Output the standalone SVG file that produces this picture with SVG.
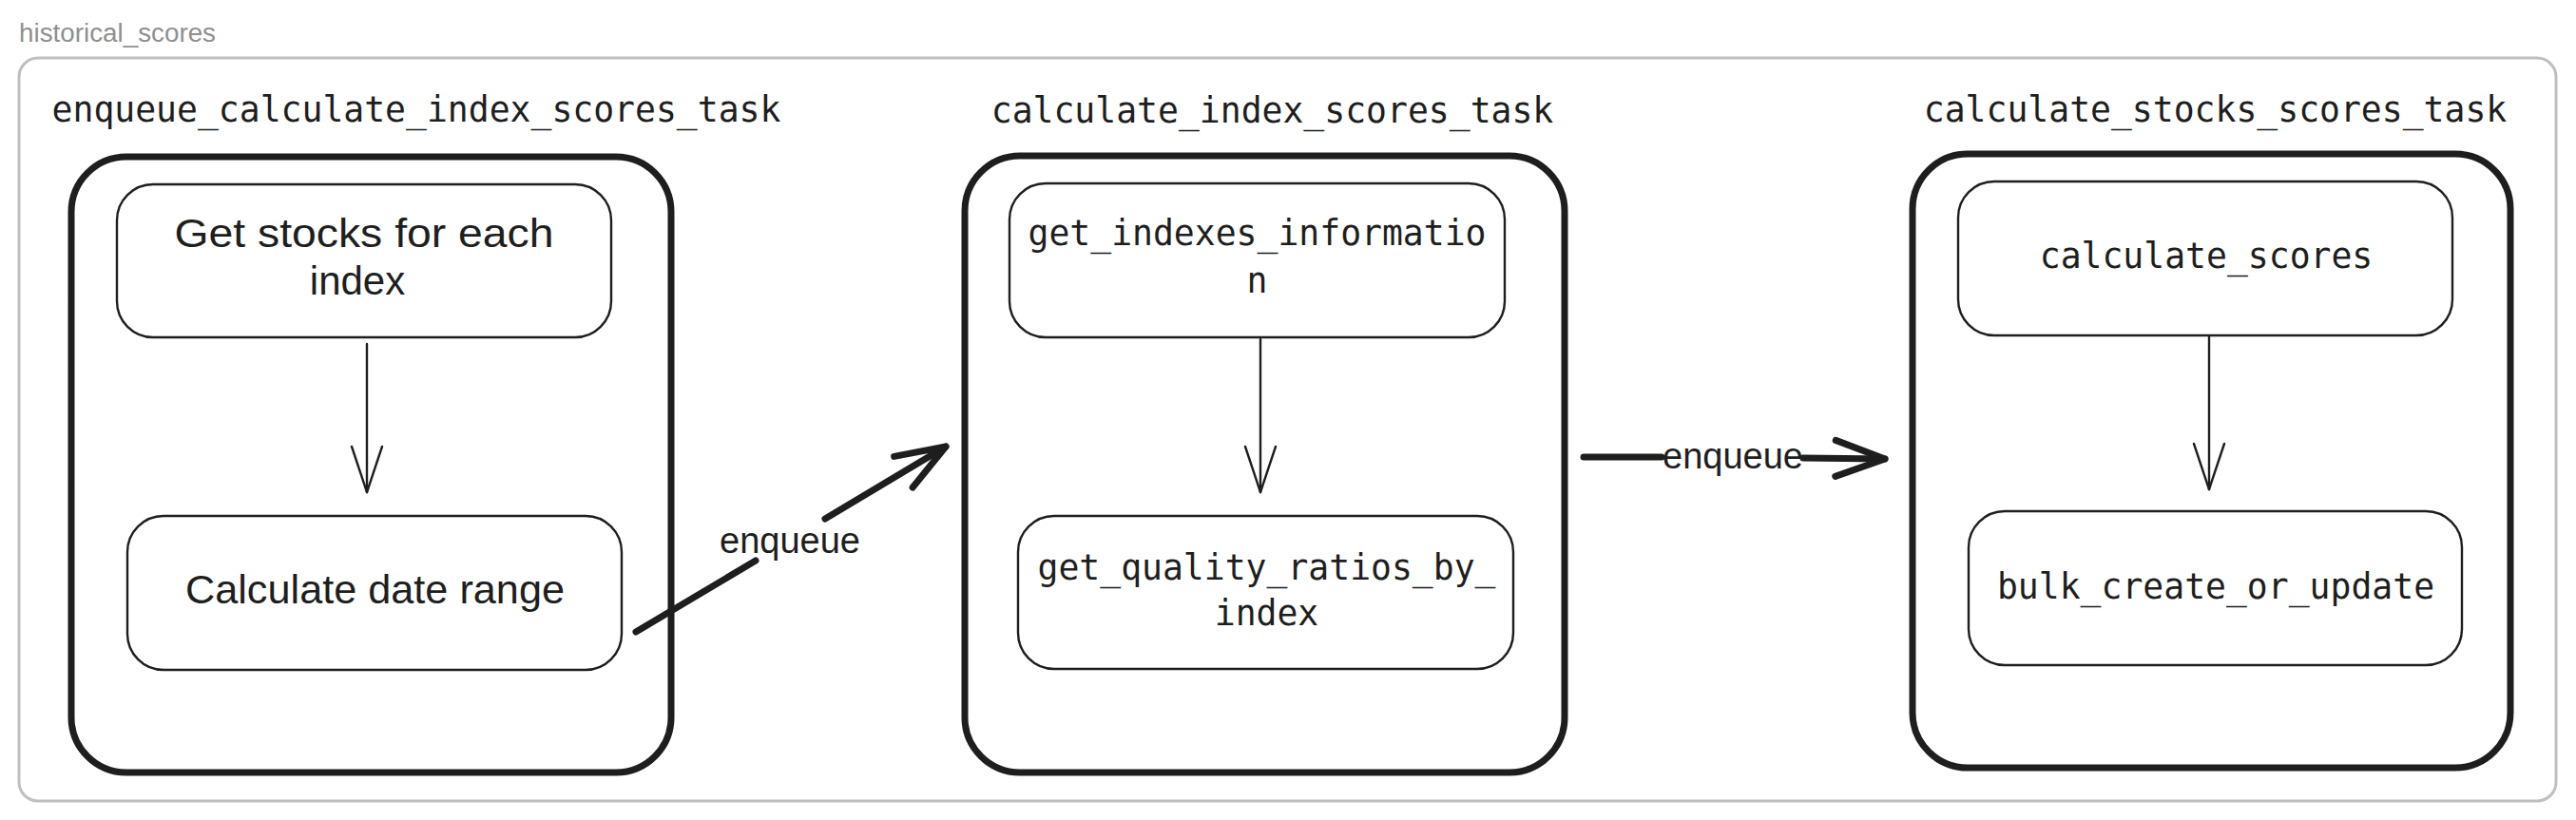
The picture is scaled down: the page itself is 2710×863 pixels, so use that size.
<svg xmlns="http://www.w3.org/2000/svg" width="2710" height="863" viewBox="0 0 2710 863">
  <style>
    .frame { fill: none; stroke: #bfbfbf; stroke-width: 3; }
    .frame-label { font-family: "Liberation Sans", Arial, sans-serif; font-size: 27px; fill: #8f8f8f; }
    .box { fill: none; stroke: #1e1e1e; stroke-width: 7; }
    .node { fill: #ffffff; stroke: #1e1e1e; stroke-width: 2.4; }
    .title { font-family: "DejaVu Sans Mono", "Liberation Mono", monospace; font-size: 36.4px; fill: #1e1e1e; text-anchor: middle; }
    .code { font-family: "DejaVu Sans Mono", "Liberation Mono", monospace; font-size: 36.4px; fill: #1e1e1e; text-anchor: middle; }
    .hand { font-family: "Liberation Sans", Arial, sans-serif; font-size: 42px; fill: #1e1e1e; text-anchor: middle; }
    .lbl { font-family: "Liberation Sans", Arial, sans-serif; font-size: 38px; fill: #1e1e1e; text-anchor: middle; }
    .thin { fill: none; stroke: #1e1e1e; stroke-width: 2.4; stroke-linecap: round; }
    .bold { fill: none; stroke: #1e1e1e; stroke-width: 7; stroke-linecap: round; }
  </style>
  <defs>
    <marker id="head-thin" markerUnits="userSpaceOnUse" viewBox="-60 -30 70 60" refX="0" refY="0" markerWidth="70" markerHeight="60" orient="auto" overflow="visible">
      <path d="M-48,-16 L0,0 L-48,16" fill="none" stroke="#1e1e1e" stroke-width="2.4" stroke-linecap="round" stroke-linejoin="round"/>
    </marker>
    <marker id="head-bold" markerUnits="userSpaceOnUse" viewBox="-70 -35 80 70" refX="0" refY="0" markerWidth="80" markerHeight="70" orient="auto" overflow="visible">
      <path d="M-52,-19 L0,0 L-52,19" fill="none" stroke="#1e1e1e" stroke-width="7" stroke-linecap="round" stroke-linejoin="round"/>
    </marker>
  </defs>
  <rect width="2710" height="863" fill="#ffffff"/>

  <g id="historical_scores">
    <text class="frame-label" x="20" y="44" textLength="207" lengthAdjust="spacingAndGlyphs">historical_scores</text>
    <rect class="frame" x="20" y="61" width="2669" height="782" rx="20" ry="20"/>
  </g>

  <g id="enqueue_calculate_index_scores_task">
    <text class="title" x="438" y="128">enqueue_calculate_index_scores_task</text>
    <rect class="box" x="75" y="165" width="631" height="648" rx="58" ry="58"/>
  </g>
  <g id="calculate_index_scores_task">
    <text class="title" x="1338.5" y="129">calculate_index_scores_task</text>
    <rect class="box" x="1015" y="164" width="631" height="649" rx="58" ry="58"/>
  </g>
  <g id="calculate_stocks_scores_task">
    <text class="title" x="2330.5" y="128">calculate_stocks_scores_task</text>
    <rect class="box" x="2012" y="162" width="629" height="646" rx="58" ry="58"/>
  </g>

  <g id="get_stocks">
    <rect class="node" x="123" y="194" width="520" height="161" rx="38" ry="38"/>
    <text class="hand" x="383" y="260" textLength="399" lengthAdjust="spacingAndGlyphs">Get stocks for each</text>
    <text class="hand" x="376" y="310">index</text>
  </g>
  <g id="calculate_date_range">
    <rect class="node" x="134" y="543" width="520" height="162" rx="38" ry="38"/>
    <text class="hand" x="394.5" y="635" textLength="399" lengthAdjust="spacingAndGlyphs">Calculate date range</text>
  </g>
  <g id="get_indexes_information">
    <rect class="node" x="1062" y="193" width="521" height="162" rx="38" ry="38"/>
    <text class="code" x="1322.5" y="258">get_indexes_informatio</text>
    <text class="code" x="1322.5" y="308">n</text>
  </g>
  <g id="get_quality_ratios_by_index">
    <rect class="node" x="1071" y="543" width="521" height="161" rx="38" ry="38"/>
    <text class="code" x="1332.5" y="610">get_quality_ratios_by_</text>
    <text class="code" x="1332.5" y="658">index</text>
  </g>
  <g id="calculate_scores">
    <rect class="node" x="2060" y="191" width="520" height="162" rx="38" ry="38"/>
    <text class="code" x="2321" y="282">calculate_scores</text>
  </g>
  <g id="bulk_create_or_update">
    <rect class="node" x="2071" y="538" width="519" height="162" rx="38" ry="38"/>
    <text class="code" x="2331" y="630">bulk_create_or_update</text>
  </g>

  <g id="connectors">
    <line class="thin" x1="386" y1="362" x2="386" y2="518" marker-end="url(#head-thin)"/>
    <line class="thin" x1="1326" y1="357" x2="1326" y2="518" marker-end="url(#head-thin)"/>
    <line class="thin" x1="2324" y1="354" x2="2324" y2="515" marker-end="url(#head-thin)"/>

    <line class="bold" x1="669" y1="665" x2="795" y2="590"/>
    <line class="bold" x1="868" y1="546" x2="995" y2="470" marker-end="url(#head-bold)"/>
    <text class="lbl" x="831" y="582">enqueue</text>

    <line class="bold" x1="1666" y1="481" x2="1748" y2="481"/>
    <line class="bold" x1="1897" y1="482" x2="1983" y2="483" marker-end="url(#head-bold)"/>
    <text class="lbl" x="1823" y="493">enqueue</text>
  </g>
</svg>
